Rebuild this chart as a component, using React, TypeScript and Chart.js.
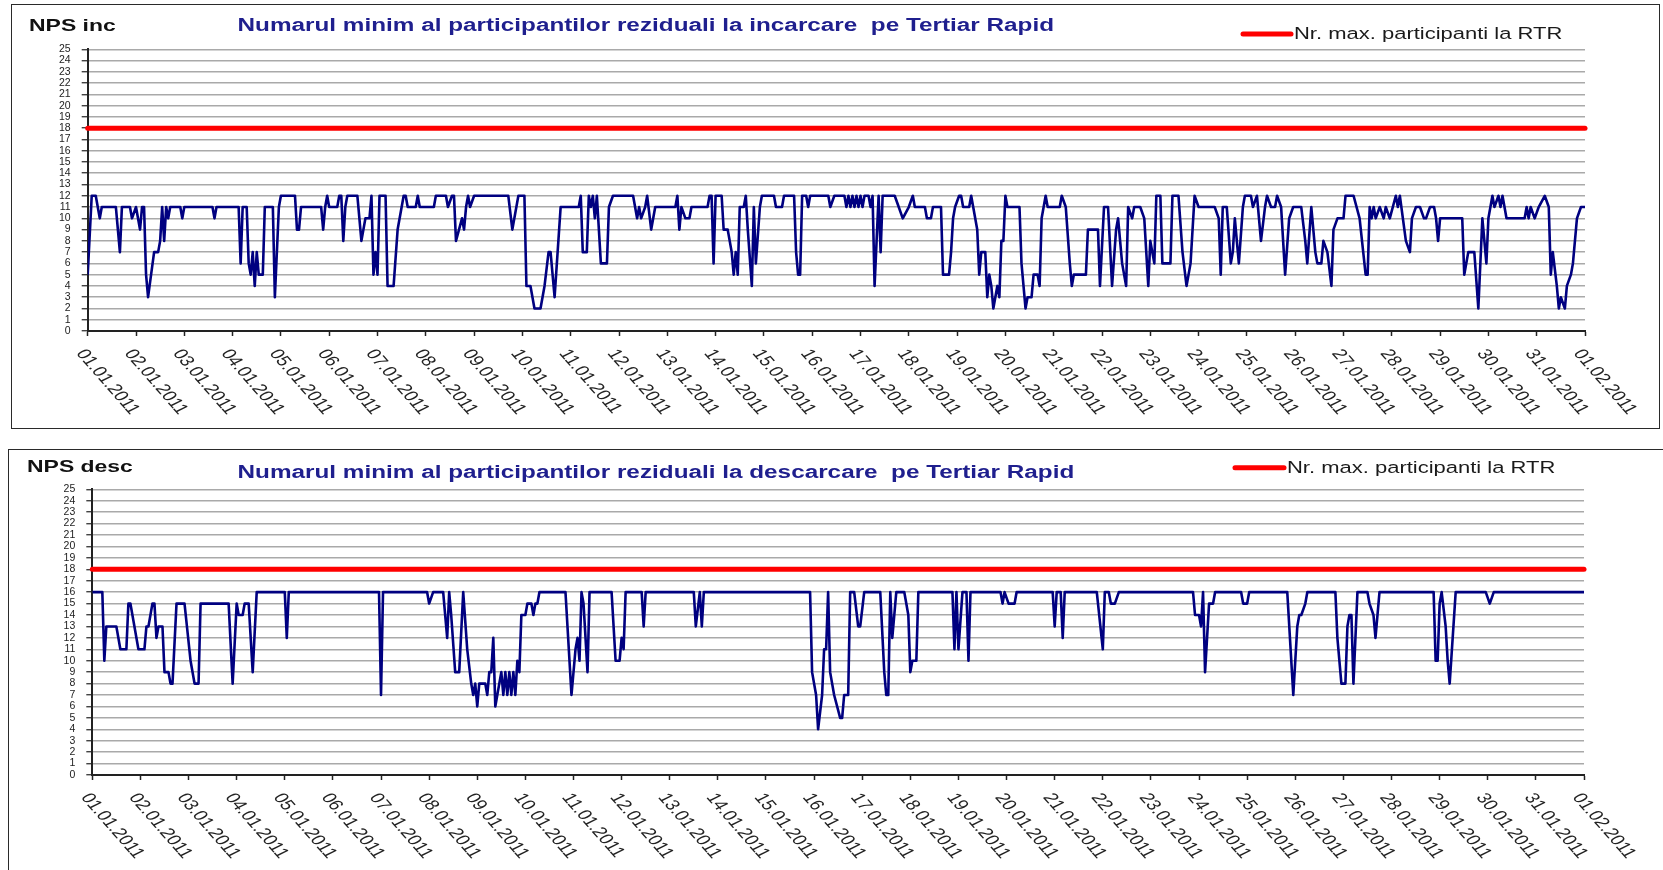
import React, { useEffect, useRef } from "react";
import { Chart, registerables } from "chart.js";

Chart.register(...registerables);

// ---------------- DATA ----------------
const DAY_LABELS = [
  "01.01.2011", "02.01.2011", "03.01.2011", "04.01.2011", "05.01.2011", "06.01.2011",
  "07.01.2011", "08.01.2011", "09.01.2011", "10.01.2011", "11.01.2011", "12.01.2011",
  "13.01.2011", "14.01.2011", "15.01.2011", "16.01.2011", "17.01.2011", "18.01.2011",
  "19.01.2011", "20.01.2011", "21.01.2011", "22.01.2011", "23.01.2011", "24.01.2011",
  "25.01.2011", "26.01.2011", "27.01.2011", "28.01.2011", "29.01.2011", "30.01.2011",
  "31.01.2011", "01.02.2011",
];
const HOURS_PER_DAY = 24;
const TOTAL_HOURS = 744;
const RTR_MAX = 18;
const LEGEND_LABEL = "Nr. max. participanti la RTR";
const INC_CODE = "NPS inc";
const INC_TITLE = "Numarul minim al participantilor reziduali la incarcare  pe Tertiar Rapid";
const DESC_CODE = "NPS desc";
const DESC_TITLE = "Numarul minim al participantilor reziduali la descarcare  pe Tertiar Rapid";

// hour of month (0 = 01.01 00:00) and value, top chart (incarcare)
const incHours = [
  0, 2, 4, 6, 7, 14, 16, 17, 21, 22, 24, 26, 27, 28, 29, 30, 33, 35, 36, 37, 38, 39, 40, 41, 46, 47, 48,
  62, 63, 64, 75, 76, 77, 79, 80, 81, 82, 83, 84, 85, 87, 88, 92, 93, 95, 96, 103, 104, 105, 106, 116,
  117, 118, 119, 120, 124, 125, 126, 127, 128, 129, 134, 136, 138, 140, 141, 142, 143, 144, 145, 148,
  149, 152, 154, 157, 158, 159, 163, 164, 165, 172, 173, 178, 179, 181, 182, 183, 186, 187, 188, 189,
  190, 192, 209, 211, 214, 217, 218, 220, 222, 225, 227, 229, 230, 232, 235, 244, 245, 246, 248, 249,
  250, 251, 252, 253, 255, 258, 259, 261, 271, 273, 274, 275, 277, 278, 280, 282, 292, 293, 294, 295,
  297, 299, 300, 308, 309, 310, 311, 312, 315, 316, 318, 320, 321, 322, 323, 324, 326, 327, 328, 330,
  331, 332, 334, 335, 341, 342, 345, 346, 351, 352, 353, 354, 355, 357, 358, 359, 368, 369, 371, 376,
  377, 378, 379, 380, 381, 382, 383, 384, 385, 386, 388, 389, 390, 391, 393, 394, 395, 401, 403, 405,
  408, 410, 411, 416, 417, 419, 420, 424, 425, 428, 429, 430, 431, 433, 434, 435, 438, 439, 440, 442,
  443, 444, 446, 447, 448, 449, 450, 451, 452, 453, 454, 455, 456, 457, 463, 464, 466, 467, 469, 470,
  472, 473, 474, 476, 477, 483, 484, 486, 488, 489, 490, 496, 497, 502, 503, 505, 507, 509, 511, 512,
  514, 516, 517, 519, 520, 523, 525, 527, 528, 530, 531, 533, 534, 538, 539, 542, 544, 546, 548, 550,
  552, 560, 562, 563, 564, 566, 568, 569, 570, 572, 574, 575, 578, 579, 581, 582, 583, 585, 586, 588,
  590, 591, 593, 595, 597, 599, 603, 605, 606, 608, 610, 611, 613, 614, 616, 618, 619, 621, 624, 625,
  629, 632, 635, 636, 637, 638, 639, 640, 642, 644, 645, 647, 650, 651, 652, 655, 657, 658, 660, 662,
  664, 665, 667, 669, 670, 671, 672, 683, 684, 686, 689, 691, 693, 695, 696, 698, 699, 701, 702, 703,
  705, 714, 715, 716, 717, 719, 721, 724, 726, 727, 728, 730, 731, 732, 734, 735, 737, 738, 740, 742,
  744,
];
const incValues = [
  5, 12, 12, 10, 11, 11, 7, 11, 11, 10, 11, 9, 11, 11, 5, 3, 7, 7, 8, 11, 8, 11, 10, 11, 11, 10, 11,
  11, 10, 11, 11, 6, 11, 11, 6, 5, 7, 4, 7, 5, 5, 11, 11, 3, 11, 12, 12, 9, 9, 11, 11,
  9, 11, 12, 11, 11, 12, 12, 8, 11, 12, 12, 8, 10, 10, 12, 5, 7, 5, 12, 12,
  4, 4, 9, 12, 12, 11, 11, 12, 11, 11, 12, 12, 11, 12, 12, 8, 10, 9, 11, 12,
  11, 12, 12, 9, 12, 12, 4, 4, 2, 2, 4, 7, 7, 3, 11, 11, 12, 7, 7, 12,
  11, 12, 10, 12, 6, 6, 11, 12, 12, 10, 11, 10, 11, 12, 9, 11, 11, 12, 9, 11,
  10, 10, 11, 11, 12, 12, 6, 12, 12, 9, 9, 7, 5, 7, 5, 11, 11, 12, 9, 4,
  11, 6, 11, 12, 12, 11, 11, 12, 12, 7, 5, 5, 12, 12, 11, 12, 12, 11, 12, 12,
  11, 12, 11, 12, 11, 12, 11, 12, 11, 12, 12, 11, 12, 4, 12, 7, 12, 12, 11, 10,
  11, 12, 11, 11, 10, 10, 11, 11, 5, 5, 7, 10, 11, 12, 12, 11, 11, 12, 11, 9,
  5, 7, 7, 3, 5, 4, 2, 3, 4, 3, 8, 8, 12, 11, 11, 6, 2, 3, 3, 5,
  5, 4, 10, 12, 11, 11, 12, 11, 6, 4, 5, 5, 9, 9, 4, 11, 11, 4, 9, 10,
  6, 4, 11, 10, 11, 11, 10, 4, 8, 6, 12, 12, 6, 6, 12, 12, 7, 4, 6, 12,
  11, 11, 10, 5, 11, 11, 6, 7, 10, 6, 11, 12, 12, 11, 12, 10, 8, 11, 12, 11,
  11, 12, 11, 5, 10, 11, 11, 8, 6, 11, 7, 6, 6, 8, 7, 4, 9, 10, 10, 12,
  12, 10, 5, 5, 11, 10, 11, 10, 11, 10, 11, 10, 12, 11, 12, 8, 7, 10, 11, 11,
  10, 10, 11, 11, 10, 8, 10, 10, 5, 7, 7, 2, 10, 6, 10, 12, 11, 12, 11, 12,
  10, 10, 11, 10, 11, 10, 11, 12, 11, 5, 7, 4, 2, 3, 2, 4, 5, 6, 10, 11,
  11,
];

// bottom chart (descarcare)
const descHours = [
  0, 5, 6, 7, 12, 14, 17, 18, 19, 23, 26, 27, 28, 30, 31, 32, 33, 35, 36, 38, 39, 40, 42, 46, 49, 51,
  53, 54, 68, 70, 72, 73, 75, 76, 78, 80, 82, 96, 97, 98, 143, 144, 145, 167, 168, 170, 175, 177, 178,
  179, 181, 183, 185, 187, 189, 190, 191, 192, 193, 196, 197, 198, 199, 200, 201, 202, 204, 205, 206,
  207, 208, 209, 210, 211, 212, 213, 214, 216, 217, 219, 220, 221, 222, 223, 236, 239, 241, 242, 243,
  244, 245, 247, 248, 259, 261, 263, 264, 265, 266, 274, 275, 276, 300, 301, 303, 304, 305, 358, 359,
  361, 362, 364, 365, 366, 367, 368, 370, 373, 374, 375, 377, 378, 380, 382, 383, 385, 393, 395, 396,
  397, 398, 399, 401, 405, 407, 408, 409, 411, 412, 429, 430, 431, 432, 434, 436, 437, 438, 453, 454,
  455, 457, 460, 461, 479, 480, 481, 483, 484, 485, 501, 504, 505, 507, 508, 510, 512, 549, 550, 552,
  553, 554, 555, 557, 559, 560, 573, 574, 576, 577, 596, 599, 601, 602, 603, 605, 606, 620, 621, 623,
  625, 626, 627, 628, 629, 631, 636, 637, 639, 640, 642, 669, 670, 671, 672, 673, 675, 676, 677, 680,
  695, 697, 699, 744,
];
const descValues = [
  16, 16, 10, 13, 13, 11, 11, 15, 15, 11, 11, 13, 13, 15, 15, 12, 13, 13, 9, 9, 8, 8, 15, 15, 10, 8,
  8, 15, 15, 8, 15, 14, 14, 15, 15, 9, 16, 16, 12, 16, 16, 7, 16, 16, 15, 16, 16, 12, 16,
  14, 9, 9, 16, 11, 8, 7, 8, 6, 8, 8, 7, 9, 9, 12, 6, 7, 9, 7, 9,
  7, 9, 7, 9, 7, 10, 9, 14, 14, 15, 15, 14, 15, 15, 16, 16, 7, 11, 12, 10,
  16, 15, 9, 16, 16, 10, 10, 12, 11, 16, 16, 13, 16, 16, 13, 16, 13, 16, 16, 9,
  7, 4, 7, 11, 11, 16, 9, 7, 5, 5, 7, 7, 16, 16, 13, 13, 16, 16, 9, 7,
  7, 16, 12, 16, 16, 14, 9, 10, 10, 16, 16, 11, 16, 11, 16, 16, 10, 16, 16, 15,
  16, 15, 15, 16, 16, 13, 16, 16, 12, 16, 16, 11, 16, 16, 15, 15, 16, 16, 14, 14,
  13, 16, 9, 15, 15, 16, 16, 15, 15, 16, 16, 7, 13, 14, 14, 15, 16, 16, 12, 8,
  8, 13, 14, 14, 8, 16, 16, 15, 14, 12, 16, 16, 10, 10, 15, 16, 13, 10, 8, 16,
  16, 15, 16, 16,
];

// ---------------- STYLE ----------------
const W = 1663;
const SX = 1.35; // horizontal stretch of the original picture's text
const FONT = '"Liberation Sans", Arial, Helvetica, sans-serif';
const NAVY = "#000080";
const RED = "#ff0000";
const GRID = "#a9a9a9";
const AXIS = "#222222";
const TITLE_BLUE = "#1f1f8e";

type Spec = {
  code: string;
  title: string;
  hours: number[];
  values: number[];
  canvasTop: number;
  canvasH: number;
  chartLeft: number;
  chartTop: number;
  chartRight: number;
  chartBottom: number;
  codeX: number;
  codeY: number;
  titleX: number;
  titleY: number;
  legX1: number;
  legX2: number;
  legY: number;
  legTextX: number;
};

const SPECS: Spec[] = [
  {
    code: INC_CODE, title: INC_TITLE, hours: incHours, values: incValues,
    canvasTop: 0, canvasH: 440,
    chartLeft: 87.7, chartTop: 49.3, chartRight: 1585, chartBottom: 331,
    codeX: 29, codeY: 26.5, titleX: 237.5, titleY: 26.5,
    legX1: 1243, legX2: 1291, legY: 34, legTextX: 1294,
  },
  {
    code: DESC_CODE, title: DESC_TITLE, hours: descHours, values: descValues,
    canvasTop: 440, canvasH: 430,
    chartLeft: 92.3, chartTop: 49.3, chartRight: 1584, chartBottom: 335,
    codeX: 27, codeY: 27.7, titleX: 237.5, titleY: 33,
    legX1: 1235, legX2: 1284, legY: 27.7, legTextX: 1287,
  },
];

function drawText(
  ctx: CanvasRenderingContext2D, text: string, x: number, y: number, font: string,
  color: string, sx: number, baseline: CanvasTextBaseline = "middle", angle = 0,
) {
  ctx.save();
  ctx.translate(x, y);
  ctx.scale(sx, 1);
  ctx.rotate(angle);
  ctx.font = font;
  ctx.fillStyle = color;
  ctx.textAlign = "left";
  ctx.textBaseline = baseline;
  ctx.fillText(text, 0, 0);
  ctx.restore();
}

function makeTextPlugin(spec: Spec) {
  return {
    id: "panelText",
    afterDraw(chart: any) {
      const ctx: CanvasRenderingContext2D = chart.ctx;
      drawText(ctx, spec.code, spec.codeX, spec.codeY, `bold 17px ${FONT}`, "#111111", SX);
      drawText(ctx, spec.title, spec.titleX, spec.titleY, `bold 18px ${FONT}`, TITLE_BLUE, SX);
      ctx.save();
      ctx.strokeStyle = RED;
      ctx.lineWidth = 5;
      ctx.lineCap = "round";
      ctx.beginPath();
      ctx.moveTo(spec.legX1, spec.legY);
      ctx.lineTo(spec.legX2, spec.legY);
      ctx.stroke();
      ctx.restore();
      drawText(ctx, LEGEND_LABEL, spec.legTextX, spec.legY + 1, `16.3px ${FONT}`, "#1a1a1a", SX);
      const xs = chart.scales.x;
      const axisY = chart.chartArea.bottom;
      xs.ticks.forEach((t: any) => {
        const idx = Math.round(t.value / HOURS_PER_DAY);
        const label = DAY_LABELS[idx];
        if (!label) return;
        const px = xs.getPixelForValue(t.value);
        drawText(ctx, label, px + 1, axisY + 16, `15px ${FONT}`, "#222222", SX, "top", (56.8 * Math.PI) / 180);
      });
    },
  };
}

function makeConfig(spec: Spec): any {
  const line = spec.hours.map((h, i) => ({ x: h, y: spec.values[i] }));
  const maxLine = [
    { x: 0, y: RTR_MAX },
    { x: TOTAL_HOURS, y: RTR_MAX },
  ];
  return {
    type: "line",
    data: {
      datasets: [
        {
          label: spec.code,
          data: line,
          borderColor: NAVY,
          borderWidth: 2.6,
          pointRadius: 0,
          tension: 0,
          borderJoinStyle: "round",
        },
        {
          label: LEGEND_LABEL,
          data: maxLine,
          borderColor: RED,
          borderWidth: 5,
          pointRadius: 0,
          borderCapStyle: "round",
          clip: false,
        },
      ],
    },
    options: {
      responsive: false,
      animation: false,
      devicePixelRatio: 1,
      layout: {
        padding: { top: spec.chartTop, right: W - spec.chartRight, left: 0, bottom: 0 },
      },
      plugins: {
        legend: { display: false },
        title: { display: false },
        tooltip: { enabled: false },
      },
      scales: {
        x: {
          type: "linear",
          min: 0,
          max: TOTAL_HOURS,
          ticks: { display: false, stepSize: HOURS_PER_DAY },
          grid: { drawOnChartArea: false, drawTicks: true, tickLength: 5, tickColor: AXIS, tickWidth: 1.5 },
          border: { color: AXIS, width: 2 },
          afterFit: (s: any) => {
            s.height = spec.canvasH - spec.chartBottom;
          },
        },
        y: {
          type: "linear",
          min: 0,
          max: 25,
          ticks: {
            stepSize: 1,
            autoSkip: false,
            color: "#222222",
            padding: 11,
            font: { family: FONT, size: 10.5 },
          },
          grid: { color: GRID, lineWidth: 1.5, drawTicks: true, tickLength: 6, tickColor: AXIS, tickWidth: 1.2 },
          border: { color: AXIS, width: 2 },
          afterFit: (s: any) => {
            s.width = spec.chartLeft;
          },
        },
      },
    },
    plugins: [makeTextPlugin(spec)],
  };
}

function Panel({ spec }: { spec: Spec }) {
  const ref = useRef<HTMLCanvasElement>(null);
  useEffect(() => {
    if (!ref.current) return;
    const chart = new Chart(ref.current, makeConfig(spec));
    return () => chart.destroy();
  }, [spec]);
  return (
    <canvas
      ref={ref}
      width={W}
      height={spec.canvasH}
      style={{ position: "absolute", left: 0, top: spec.canvasTop, width: W, height: spec.canvasH }}
    />
  );
}

export default function App() {
  return (
    <div
      style={{
        position: "fixed",
        left: 0,
        top: 0,
        width: W,
        height: 870,
        overflow: "hidden",
        background: "#ffffff",
      }}
    >
      <div
        style={{
          position: "absolute",
          left: 11,
          top: 4,
          width: 1649,
          height: 425,
          border: "1.5px solid #2a2a2a",
          boxSizing: "border-box",
        }}
      />
      <div
        style={{
          position: "absolute",
          left: 8,
          top: 449,
          width: 1670,
          height: 440,
          border: "1.5px solid #2a2a2a",
          boxSizing: "border-box",
        }}
      />
      {SPECS.map((s) => (
        <Panel key={s.code} spec={s} />
      ))}
    </div>
  );
}
